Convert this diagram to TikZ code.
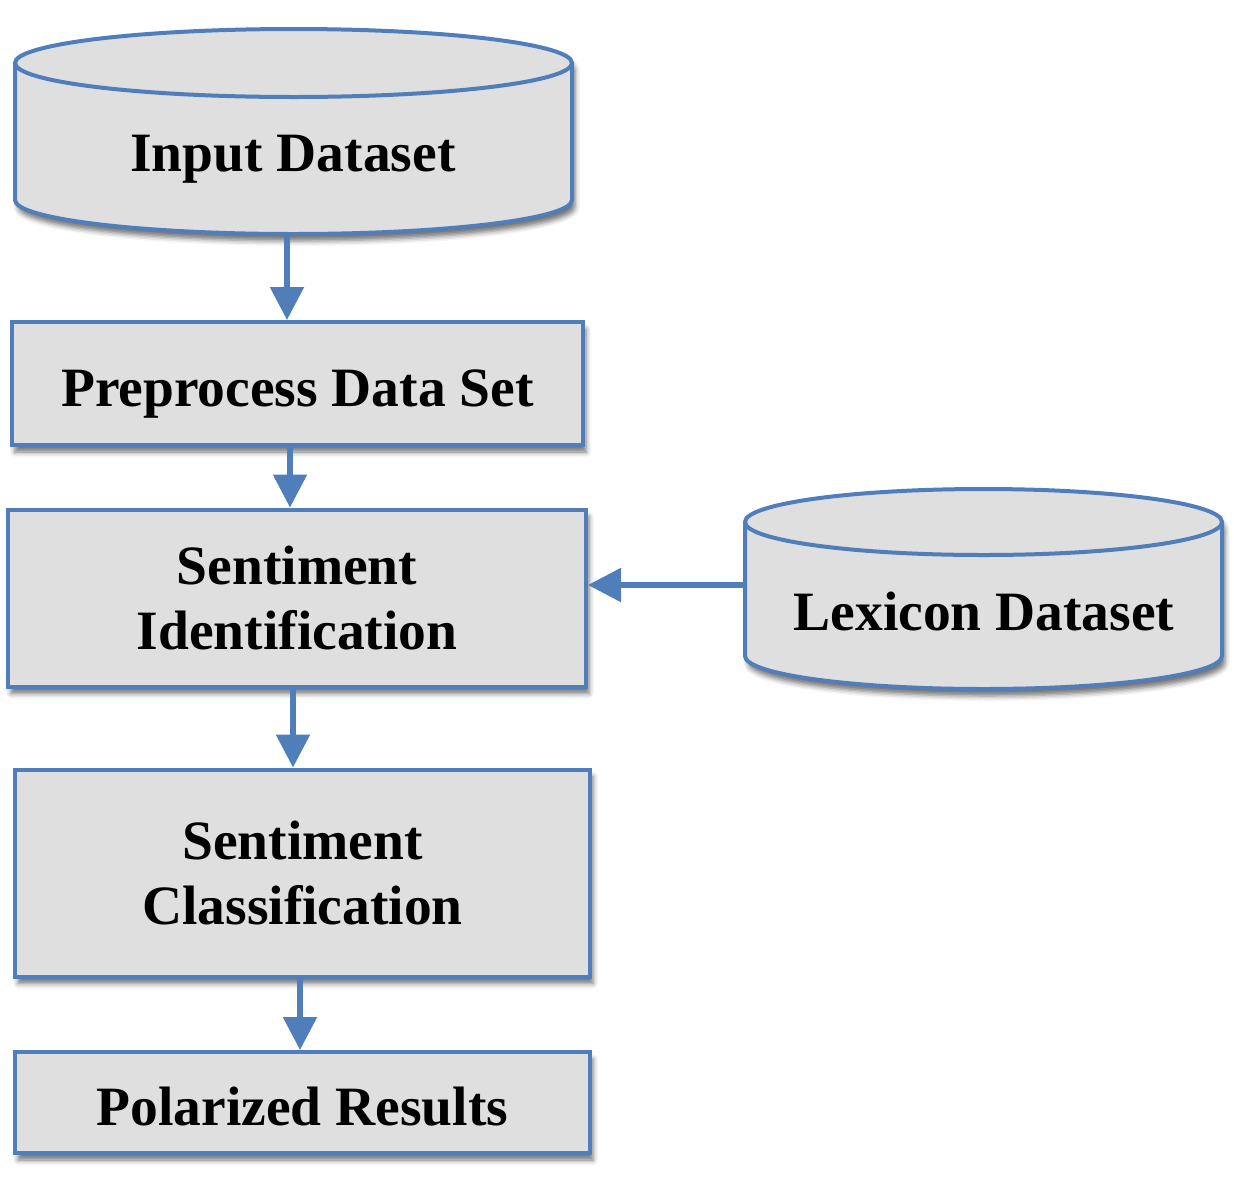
\documentclass[tikz,border=0pt]{standalone}
\usepackage{fontspec}
\setmainfont{Liberation Serif}
\usetikzlibrary{arrows.meta,shadows.blur}
\definecolor{edge}{RGB}{79,126,187}
\definecolor{boxfill}{RGB}{223,223,223}
\tikzset{
  shd/.style={blur shadow={shadow xshift=3pt,shadow yshift=-7pt,shadow blur radius=5pt,shadow opacity=55}},
  txt/.style={font=\fontsize{55.5pt}{65pt}\selectfont\bfseries,align=center},
  stepbox/.style={draw=edge,line width=4pt,fill=boxfill,shd,inner sep=0pt,txt},
  dblabel/.style={txt,inner sep=0pt,text depth=0pt},
  dbline/.style={draw=edge,line width=4pt},
  arr/.style={draw=edge,line width=5.5pt,-{Triangle[length=33pt,width=33pt]}}
}
\newcommand\dbcyl[6]{%
  \path[shd,fill=boxfill] (#1,#3) -- (#1,#4) arc[start angle=180,end angle=0,x radius=#5,y radius=#6] -- (#2,#3) arc[start angle=0,end angle=-180,x radius=#5,y radius=#6] -- cycle;
  \draw[dbline] (#1,#3) -- (#1,#4) arc[start angle=180,end angle=0,x radius=#5,y radius=#6] -- (#2,#3);
  \draw[dbline] ({(#1+#2)/2},#3) ellipse[x radius=#5,y radius=#6];
}
\begin{document}
\begin{tikzpicture}[x=1pt,y=-1pt]
\useasboundingbox (0,0) rectangle (1234,1184);
% cylinders
\dbcyl{15}{572}{63}{200}{278.5}{34}
\dbcyl{745}{1222}{522}{656}{238.5}{33}
\node[dblabel] (in) at (293,153.5) {Input Dataset};
\node[dblabel] (lex) at (984,611) {Lexicon Dataset};
\coordinate (in-s) at (287,234);
\coordinate (lex-w) at (745,585);
% boxes
\node[stepbox,minimum width=571pt,minimum height=123pt,text height=46pt,text depth=0pt] (pre) at (297.5,383.5) {Preprocess Data Set};
\node[stepbox,minimum width=578pt,minimum height=177pt] (sid) at (297,598) {Sentiment\\Identification};
\node[stepbox,minimum width=575pt,minimum height=207pt] (scl) at (302.5,873) {Sentiment\\Classification};
\node[stepbox,minimum width=575pt,minimum height=101pt,text height=46pt,text depth=0pt] (pol) at (302.5,1102.5) {Polarized Results};
% arrows
\draw[arr] (in-s) -- ([xshift=-10.5pt]pre.north);
\draw[arr] ([xshift=-7.5pt]pre.south) -- ([xshift=-7pt]sid.north);
\draw[arr] ([xshift=-4pt]sid.south) -- ([xshift=-9.5pt]scl.north);
\draw[arr] ([xshift=-2.5pt]scl.south) -- ([xshift=-2.5pt]pol.north);
\draw[arr] (lex-w) -- (sid.east |- lex-w);
\end{tikzpicture}
\end{document}
